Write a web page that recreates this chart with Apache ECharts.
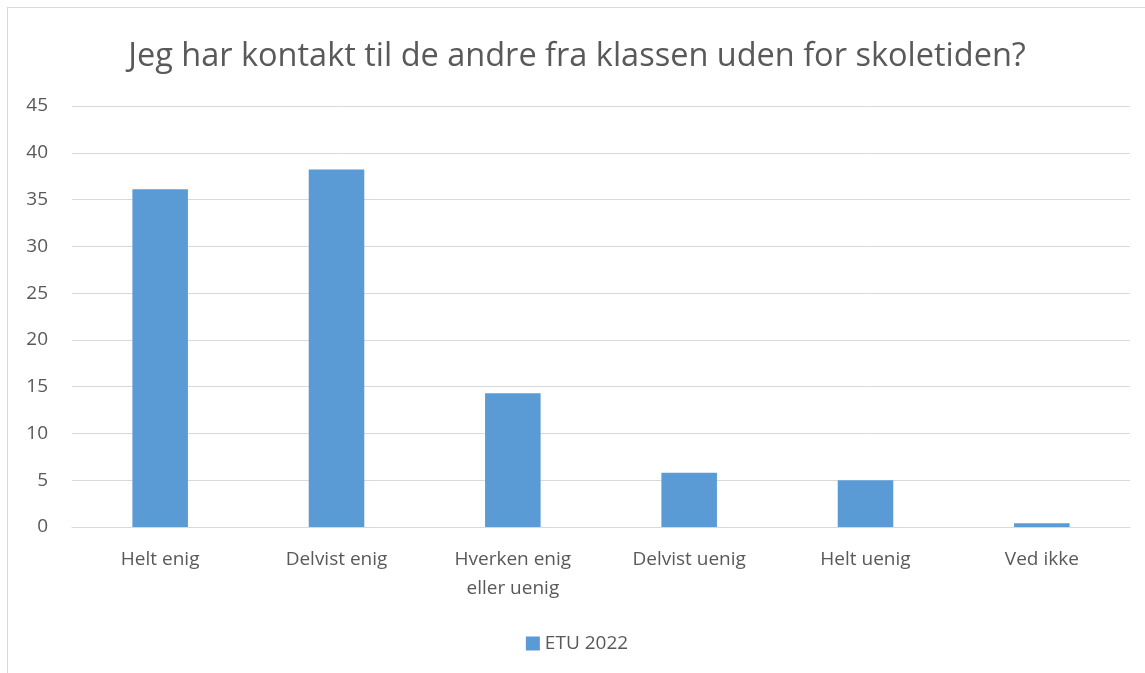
<!DOCTYPE html>
<html>
<head>
<meta charset="utf-8">
<script src="https://cdn.jsdelivr.net/npm/echarts@6/dist/echarts.min.js"></script>
<style>
  html, body { margin: 0; padding: 0; background: #fff; }
  #chart { position: absolute; left: 7px; top: 7px; width: 1140px; height: 680px;
           border: 1px solid #d9d9d9; box-sizing: border-box; }
</style>
</head>
<body>
<div id="chart"></div>
<script>
const categories = ['Helt enig', 'Delvist enig', 'Hverken enig\neller uenig', 'Delvist uenig', 'Helt uenig', 'Ved ikke'];
const values = [36.1, 38.2, 14.3, 5.8, 5.0, 0.4];
const seriesName = 'ETU 2022';

const chart = echarts.init(document.getElementById('chart'));
chart.setOption({
  animation: false,
  textStyle: { fontFamily: 'Open Sans, Noto Sans, sans-serif' },
  title: {
    text: 'Jeg har kontakt til de andre fra klassen uden for skoletiden?',
    left: 'center',
    top: 27,
    textStyle: { fontSize: 32.5, fontWeight: 'normal', color: '#595959' }
  },
  legend: {
    top: 621,
    left: 'center',
    itemWidth: 14,
    itemHeight: 14,
    icon: 'rect',
    textStyle: { fontSize: 19, color: '#595959' },
    data: [seriesName]
  },
  grid: { left: 64, right: 16, top: 98, bottom: 159, containLabel: false },
  xAxis: {
    type: 'category',
    data: categories,
    axisLine: { lineStyle: { color: '#d9d9d9' } },
    axisTick: { show: false },
    axisLabel: { fontSize: 19, color: '#595959', margin: 18, lineHeight: 29 }
  },
  yAxis: {
    type: 'value',
    min: 0,
    max: 45,
    interval: 5,
    axisLine: { show: false },
    axisTick: { show: false },
    splitLine: { lineStyle: { color: '#d9d9d9', width: 1 } },
    axisLabel: { fontSize: 19, color: '#595959', margin: 24 }
  },
  series: [{
    name: seriesName,
    type: 'bar',
    data: values,
    barWidth: '31.5%',
    itemStyle: { color: '#5b9bd5' }
  }]
});
</script>
</body>
</html>
